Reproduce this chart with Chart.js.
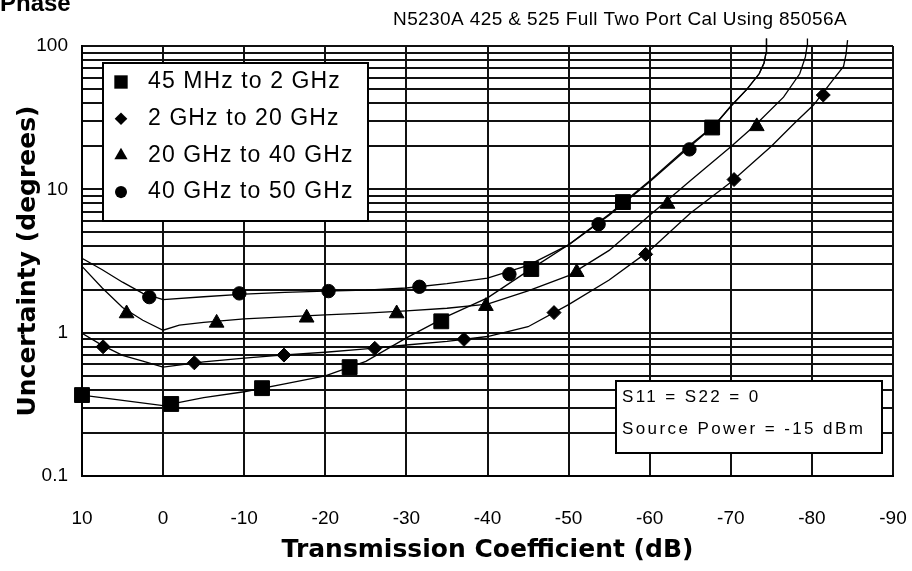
<!DOCTYPE html>
<html>
<head>
<meta charset="utf-8">
<script src="https://cdn.jsdelivr.net/npm/chart.js@4.4.1/dist/chart.umd.min.js"></script>
<style>
  html, body { margin: 0; padding: 0; background: #fff; }
</style>
</head>
<body>
<canvas id="phaseChart" width="912" height="571"></canvas>
<script>
// series names, in legend order
const seriesNames = ["45 MHz to 2 GHz", "2 GHz to 20 GHz", "20 GHz to 40 GHz", "40 GHz to 50 GHz"];

// x axis (dB) and y axis (degrees) ticks
const xTickValues = [10, 0, -10, -20, -30, -40, -50, -60, -70, -80, -90];
const yTickLabels = [0.1, 1, 10, 100];

// curves: transmission coefficient (dB) -> uncertainty (deg)
const curve45MHzDb = [10, 5, 0, -5, -10, -15, -20, -25, -30, -35, -40, -45, -50, -55, -60, -65, -68, -70, -72, -73.5, -74.1, -74.35, -74.4];
const curve45MHzDeg = [0.367, 0.337, 0.31, 0.352, 0.387, 0.44, 0.5, 0.63, 0.92, 1.3, 1.75, 2.7, 4.1, 6.7, 11.5, 20.5, 28, 38, 50, 64, 76, 90, 113];

const curve2GHzDb = [10, 7.5, 5, 2.5, 0, -5, -10, -15, -20, -25, -30, -35, -40, -45, -50, -55, -60, -65, -70, -75, -78, -80.2, -82.6, -83.9, -84.2, -84.4];
const curve2GHzDeg = [0.99, 0.815, 0.694, 0.632, 0.575, 0.625, 0.665, 0.7, 0.73, 0.77, 0.82, 0.87, 0.94, 1.1, 1.57, 2.33, 3.75, 6.8, 11.2, 20, 29.5, 38.7, 58, 72, 87, 110];

const curve20GHzDb = [10, 7.5, 5, 2.5, 0, -2, -5, -10, -15, -20, -25, -30, -35, -40, -45, -50, -55, -60, -65, -70, -73, -76.5, -78.5, -79.2, -79.4, -79.45];
const curve20GHzDeg = [2.9, 2.05, 1.5, 1.22, 1.04, 1.13, 1.18, 1.25, 1.29, 1.33, 1.37, 1.42, 1.48, 1.58, 1.96, 2.5, 3.75, 6.6, 11.5, 19.8, 28, 44, 64, 84, 100, 113];

const curve40GHzDb = [10, 7.5, 5, 2.5, 0, -5, -10, -15, -20, -25, -30, -35, -40, -45, -50, -55, -60, -65, -68, -70, -72, -73.5, -74.1, -74.35, -74.4];
const curve40GHzDeg = [3.3, 2.75, 2.25, 1.88, 1.7, 1.78, 1.86, 1.91, 1.95, 1.98, 2.05, 2.2, 2.4, 2.95, 4.1, 6.6, 11.3, 20, 28, 38, 50, 64, 76, 90, 113];

// marker points
const marks45MHzDb = [10, -1, -12.2, -23, -34.3, -45.4, -56.7, -67.7];
const marks45MHzDeg = [0.367, 0.318, 0.41, 0.575, 1.2, 2.78, 8.15, 27];

const marks2GHzDb = [7.4, -3.85, -14.9, -26.1, -37.1, -48.2, -59.5, -70.4, -81.4];
const marks2GHzDeg = [0.797, 0.616, 0.698, 0.777, 0.898, 1.38, 3.52, 11.7, 45.5];

const marks20GHzDb = [4.5, -6.6, -17.7, -28.8, -39.8, -51, -62.2, -73.2];
const marks20GHzDeg = [1.36, 1.17, 1.27, 1.36, 1.53, 2.64, 7.9, 27.5];

const marks40GHzDb = [1.7, -9.4, -20.4, -31.6, -42.7, -53.7, -64.9];
const marks40GHzDeg = [1.77, 1.88, 1.95, 2.09, 2.56, 5.71, 19.0];

const markerStyles = ["rect", "rectRot", "triangle", "circle"];
const markerSizes = [10.5, 7, 8.5, 6.7];

const titleText = "N5230A 425 & 525 Full Two Port Cal Using 85056A";
const noteLines = ["S11 = S22 = 0", "Source Power = -15 dBm"];

const sans = "'Liberation Sans', Arial, sans-serif";

function toPoints(xs, ys) {
    return xs.map((x, i) => ({ x: x, y: ys[i] }));
}

// log grid: 1..9 in each decade
const yGridValues = [];
for (let d = 0; d < yTickLabels.length - 1; d++) {
    for (let m = 1; m <= 9; m++) {
        yGridValues.push(Number((m * yTickLabels[d]).toPrecision(3)));
    }
}
yGridValues.push(yTickLabels[yTickLabels.length - 1]);

const curves = [
    toPoints(curve45MHzDb, curve45MHzDeg),
    toPoints(curve2GHzDb, curve2GHzDeg),
    toPoints(curve20GHzDb, curve20GHzDeg),
    toPoints(curve40GHzDb, curve40GHzDeg)
];

const marks = [
    toPoints(marks45MHzDb, marks45MHzDeg),
    toPoints(marks2GHzDb, marks2GHzDeg),
    toPoints(marks20GHzDb, marks20GHzDeg),
    toPoints(marks40GHzDb, marks40GHzDeg)
];

const datasets = [];

curves.forEach((pts, i) => {
    datasets.push({
        label: seriesNames[i] + " curve",
        data: pts,
        borderColor: "#000",
        borderWidth: 1.3,
        pointRadius: 0,
        tension: 0,
        fill: false,
        clip: { left: 0, top: 10, right: 0, bottom: 0 }
    });
});

marks.forEach((pts, i) => {
    datasets.push({
        label: seriesNames[i],
        data: pts,
        showLine: false,
        pointStyle: markerStyles[i],
        pointRadius: markerSizes[i],
        pointBackgroundColor: "#000",
        pointBorderColor: "#000",
        pointBorderWidth: 1,
        clip: false
    });
});

function drawMarker(ctx, style, x, y, r) {
    ctx.beginPath();
    if (style === "rect") {
        const s = Math.SQRT1_2 * r;
        ctx.rect(x - s, y - s, 2 * s, 2 * s);
    } else if (style === "rectRot") {
        ctx.moveTo(x - r, y);
        ctx.lineTo(x, y - r);
        ctx.lineTo(x + r, y);
        ctx.lineTo(x, y + r);
        ctx.closePath();
    } else if (style === "triangle") {
        ctx.moveTo(x, y - r);
        ctx.lineTo(x + r * 0.866, y + r / 2);
        ctx.lineTo(x - r * 0.866, y + r / 2);
        ctx.closePath();
    } else {
        ctx.arc(x, y, r, 0, Math.PI * 2);
    }
    ctx.fillStyle = "#000";
    ctx.fill();
}

const decorPlugin = {
    id: "decor",
    beforeDraw(chart) {
        const ctx = chart.ctx;
        ctx.save();
        ctx.fillStyle = "#fff";
        ctx.fillRect(0, 0, chart.width, chart.height);
        ctx.restore();
    },
    afterDraw(chart) {
        const ctx = chart.ctx;
        ctx.save();

        // page heading, cut off at the top
        ctx.fillStyle = "#000";
        ctx.font = "bold 24px " + sans;
        ctx.textAlign = "left";
        ctx.textBaseline = "alphabetic";
        ctx.fillText("Phase", 0, 11);

        // chart title
        ctx.font = "19px " + sans;
        ctx.letterSpacing = "0.4px";
        ctx.textAlign = "center";
        ctx.textBaseline = "middle";
        ctx.fillText(titleText, 620, 20);

        // legend box
        ctx.letterSpacing = "0px";
        ctx.fillStyle = "#fff";
        ctx.fillRect(103, 63, 265, 158);
        ctx.strokeStyle = "#000";
        ctx.lineWidth = 2;
        ctx.strokeRect(103, 63, 265, 158);

        ctx.font = "23px " + sans;
        ctx.letterSpacing = "1.1px";
        ctx.textAlign = "left";
        ctx.textBaseline = "middle";
        seriesNames.forEach((name, i) => {
            const y = 82 + i * 36.7;
            drawMarker(ctx, markerStyles[i], 121, y, markerSizes[i] * 0.9);
            ctx.fillStyle = "#000";
            ctx.fillText(name, 148, y);
        });

        // note box
        ctx.letterSpacing = "0px";
        ctx.fillStyle = "#fff";
        ctx.fillRect(616, 381, 266, 72);
        ctx.strokeRect(616, 381, 266, 72);
        ctx.fillStyle = "#000";
        ctx.font = "17px " + sans;
        ctx.letterSpacing = "2.4px";
        ctx.fillText(noteLines[0], 622, 397);
        ctx.fillText(noteLines[1], 622, 429);

        ctx.restore();
    }
};

new Chart(document.getElementById("phaseChart"), {
    type: "line",
    data: { datasets: datasets },
    plugins: [decorPlugin],
    options: {
        responsive: false,
        animation: false,
        devicePixelRatio: 1,
        layout: { padding: { top: 46, right: 19, left: 0, bottom: 0 } },
        plugins: {
            legend: { display: false },
            tooltip: { enabled: false }
        },
        scales: {
            x: {
                type: "linear",
                reverse: true,
                min: -90,
                max: 10,
                afterBuildTicks: (scale) => {
                    scale.ticks = xTickValues.map((v) => ({ value: v }));
                },
                afterFit: (scale) => {
                    scale.height = 95;
                    scale.paddingLeft = 0;
                    scale.paddingRight = 0;
                },
                ticks: {
                    color: "#000",
                    font: { family: sans, size: 19 },
                    padding: 31,
                    maxRotation: 0,
                    autoSkip: false,
                    callback: (value) => String(value)
                },
                grid: { color: "#111", lineWidth: 2, drawTicks: false },
                border: { color: "#000", width: 2 },
                title: {
                    display: true,
                    text: "Transmission Coefficient (dB)",
                    color: "#000",
                    font: { family: "'DejaVu Sans', sans-serif", size: 25, weight: "bold" },
                    padding: { top: 0, bottom: 6 }
                }
            },
            y: {
                type: "logarithmic",
                min: 0.1,
                max: 100,
                afterBuildTicks: (scale) => {
                    scale.ticks = yGridValues.map((v) => ({ value: v }));
                },
                afterFit: (scale) => {
                    scale.width = 82;
                    scale.paddingTop = 0;
                    scale.paddingBottom = 0;
                },
                ticks: {
                    color: "#000",
                    font: { family: sans, size: 19 },
                    padding: 14,
                    autoSkip: false,
                    callback: (value) => (yTickLabels.includes(value) ? String(value) : "")
                },
                grid: { color: "#111", lineWidth: 2, drawTicks: false },
                border: { color: "#000", width: 2 },
                title: {
                    display: true,
                    text: "Uncertainty (degrees)",
                    color: "#000",
                    font: { family: "'DejaVu Sans', sans-serif", size: 25, weight: "bold" },
                    padding: { top: 13, bottom: 0 }
                }
            }
        }
    }
});
</script>
</body>
</html>
